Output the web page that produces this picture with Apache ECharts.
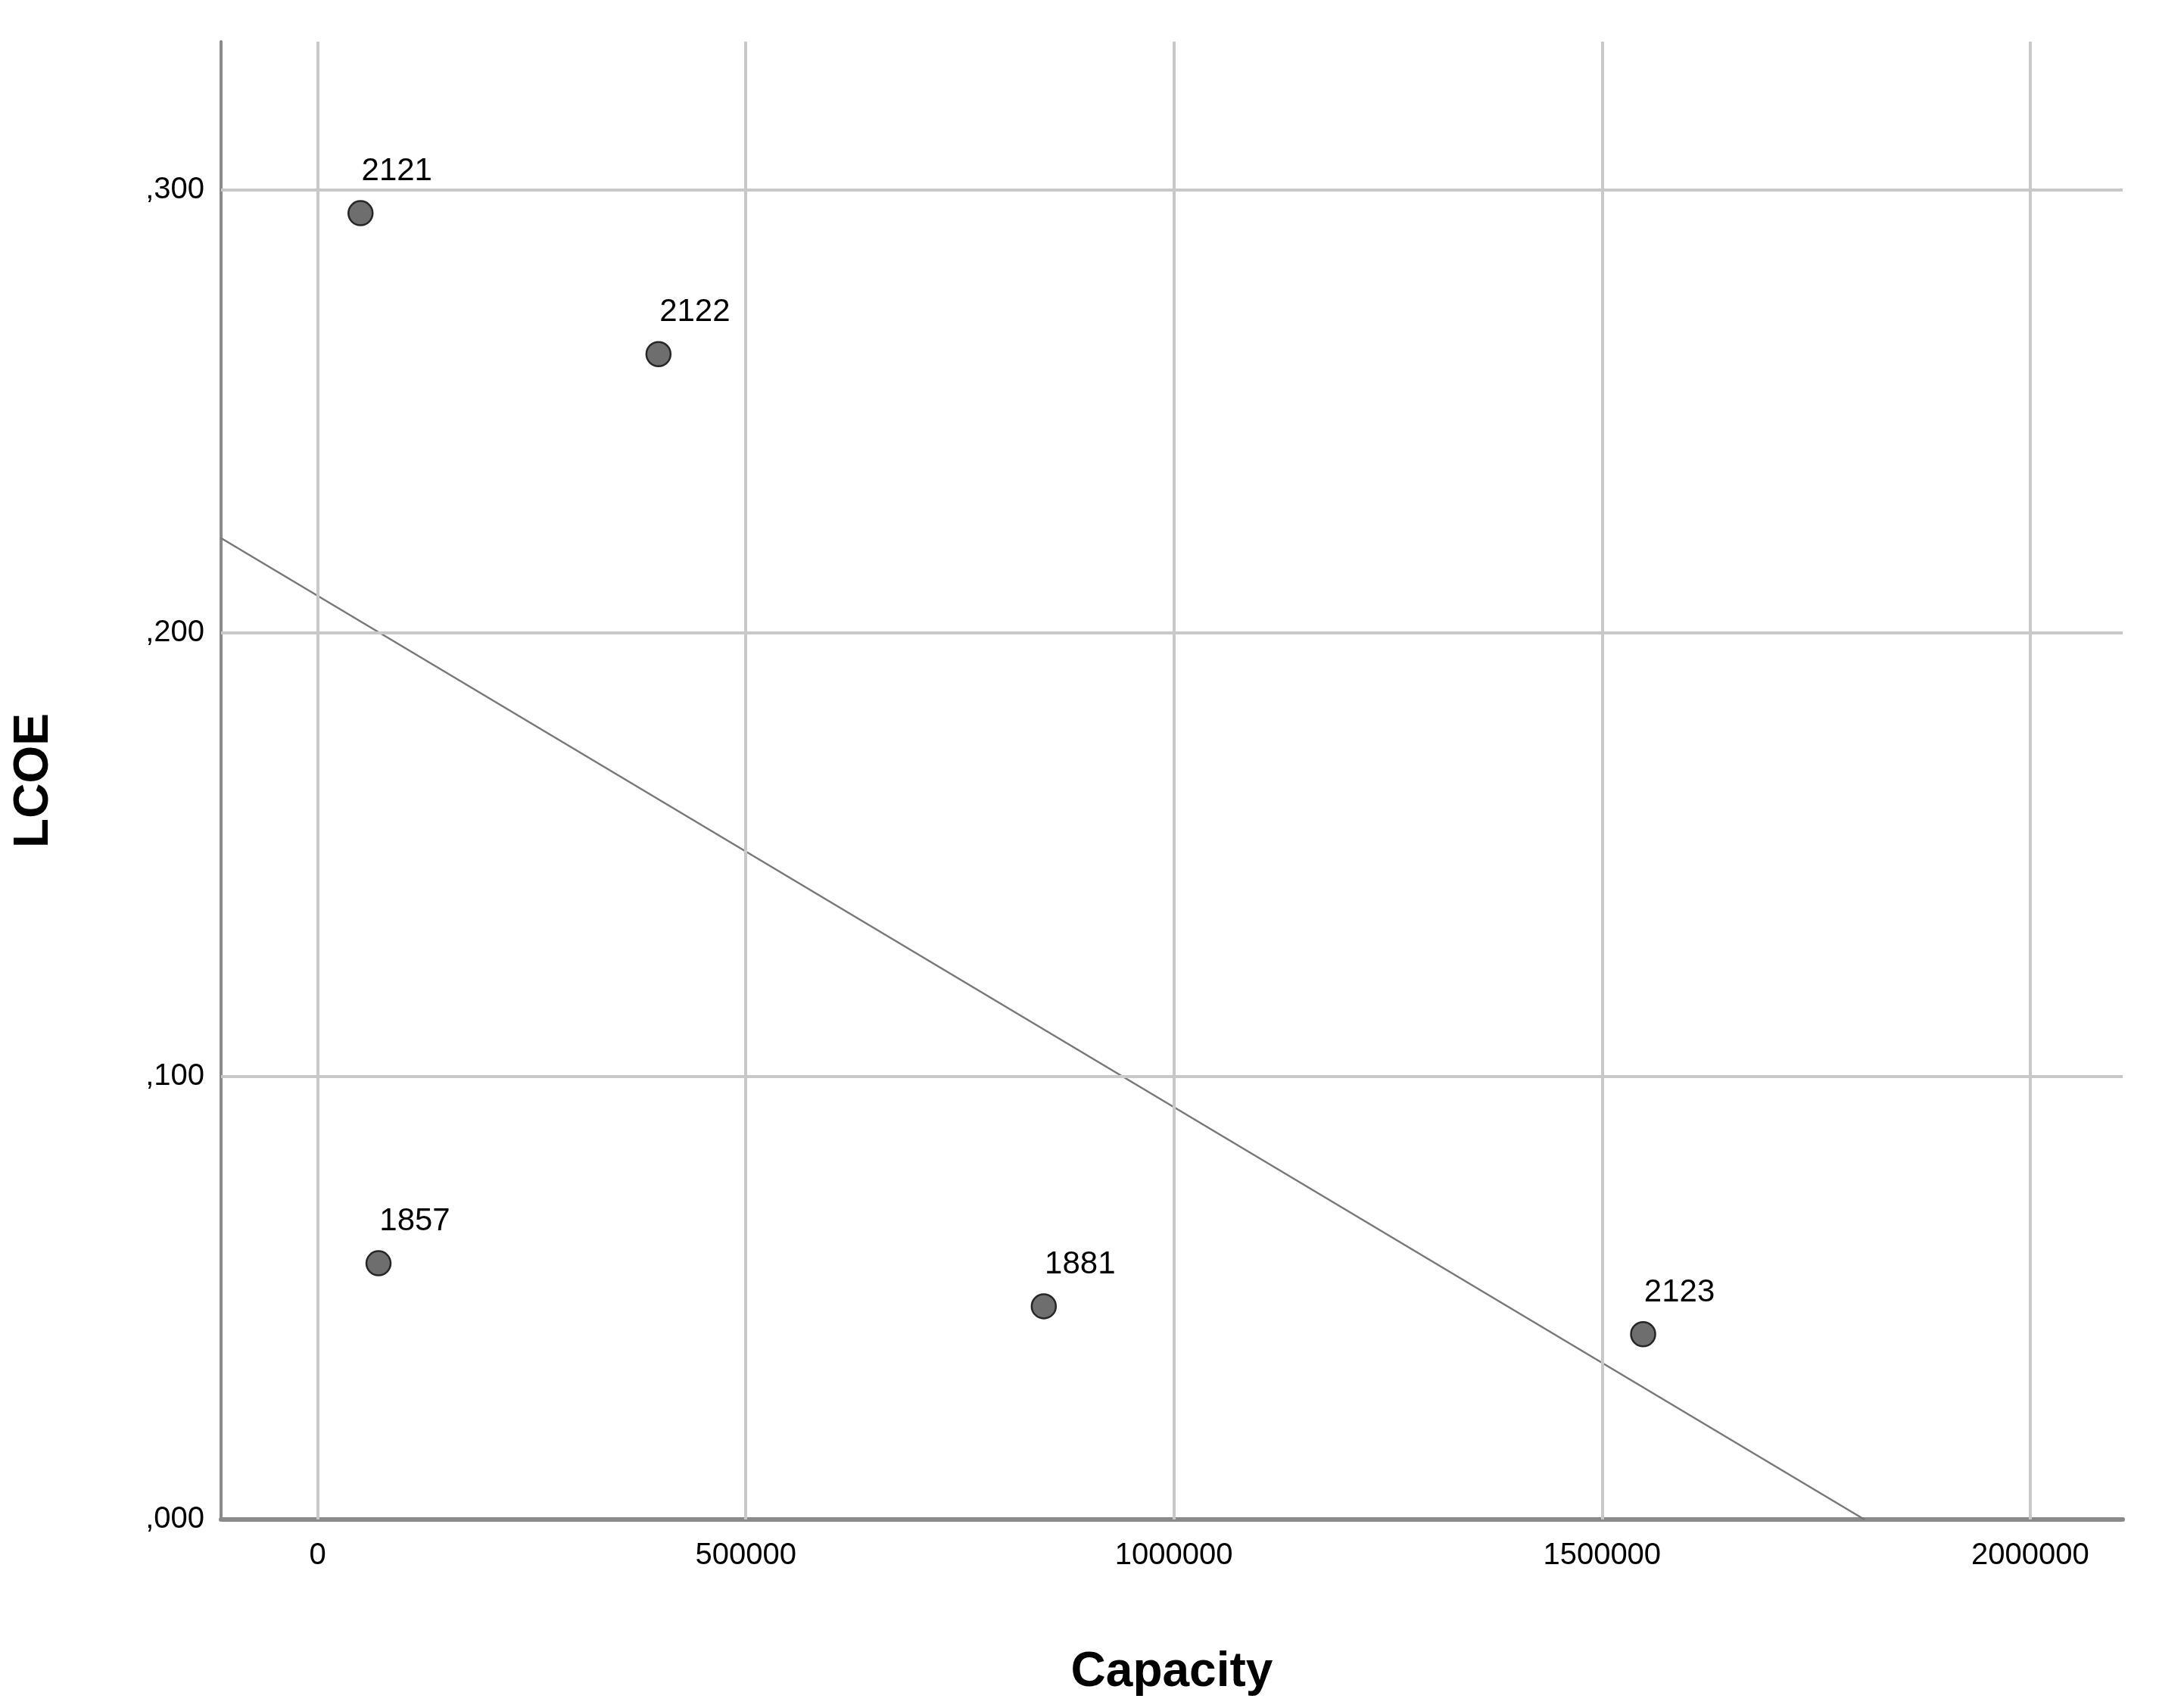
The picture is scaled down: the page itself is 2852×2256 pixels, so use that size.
<!DOCTYPE html>
<html>
<head>
<meta charset="utf-8">
<script src="https://cdn.jsdelivr.net/npm/echarts@6/dist/echarts.min.js"></script>
<style>html,body{margin:0;padding:0;background:#fff}#c{width:2852px;height:2256px}</style>
</head>
<body>
<div id="c"></div>
<script>
var ids = ['2121', '2122', '1857', '1881', '2123'];
var capacity = [50000, 398000, 71000, 848000, 1548000];
var lcoe = [0.2947, 0.2629, 0.0578, 0.0481, 0.0418];
var fitX = [-112903, 1806450];
var fitY = [0.2214, 0];
var xTicks = [0, 500000, 1000000, 1500000, 2000000];
var yTicks = [0, 0.1, 0.2, 0.3];

var myChart = echarts.init(document.getElementById('c'));
var pts = [];
for (var i = 0; i < ids.length; i++) {
	pts.push({ value: [capacity[i], lcoe[i]], name: ids[i] });
}
var gridColor = '#c8c8c8';
var vLines = xTicks.map(function (v) { return { xAxis: v }; });
var hLines = yTicks.slice(1).map(function (v) { return { yAxis: v }; });
var option = {
	backgroundColor: '#ffffff',
	animation: false,
	grid: { left: 292, right: 48, top: 55, bottom: 249 },
	xAxis: {
		type: 'value',
		min: -112903,
		max: 2108065,
		name: 'Capacity',
		nameLocation: 'middle',
		nameGap: 170,
		nameTextStyle: { fontFamily: 'Liberation Sans', fontWeight: 'bold', fontSize: 64, color: '#000' },
		axisLine: { onZero: false, lineStyle: { color: '#8a8a8a', width: 6 } },
		axisTick: { show: false },
		splitLine: { show: false },
		axisLabel: {
			customValues: xTicks,
			formatter: function (v) { return String(v); },
			margin: 28,
			fontFamily: 'Liberation Sans',
			fontSize: 40,
			color: '#000'
		}
	},
	yAxis: {
		type: 'value',
		min: 0,
		max: 0.3334,
		interval: 0.1,
		name: 'LCOE',
		nameLocation: 'middle',
		nameGap: 215,
		nameRotate: 90,
		nameTextStyle: { fontFamily: 'Liberation Sans', fontWeight: 'bold', fontSize: 64, color: '#000' },
		axisLine: { show: true, onZero: false, lineStyle: { color: '#8a8a8a', width: 4 } },
		axisTick: { show: false },
		splitLine: { show: false },
		axisLabel: {
			showMaxLabel: false,
			margin: 22,
			fontFamily: 'Liberation Sans',
			fontSize: 40,
			color: '#000',
			formatter: function (v) { return v.toFixed(3).replace('0.', ','); }
		}
	},
	series: [{
		type: 'line',
		data: [[fitX[0], fitY[0]], [fitX[1], fitY[1]]],
		symbol: 'none',
		silent: true,
		lineStyle: { color: '#777777', width: 2.5 },
		markLine: {
			silent: true,
			symbol: 'none',
			label: { show: false },
			lineStyle: { color: gridColor, width: 4, type: 'solid' },
			data: vLines.concat(hLines)
		},
		z: 3
	}, {
		type: 'scatter',
		data: pts,
		symbolSize: 32,
		itemStyle: { color: '#6e6e6e', borderColor: '#262626', borderWidth: 2.5, opacity: 1 },
		label: {
			show: true,
			position: 'top',
			offset: [48, -12],
			formatter: '{b}',
			fontFamily: 'Liberation Sans',
			fontSize: 42,
			color: '#000'
		},
		z: 5
	}]
};
myChart.setOption(option);
</script>
</body>
</html>
